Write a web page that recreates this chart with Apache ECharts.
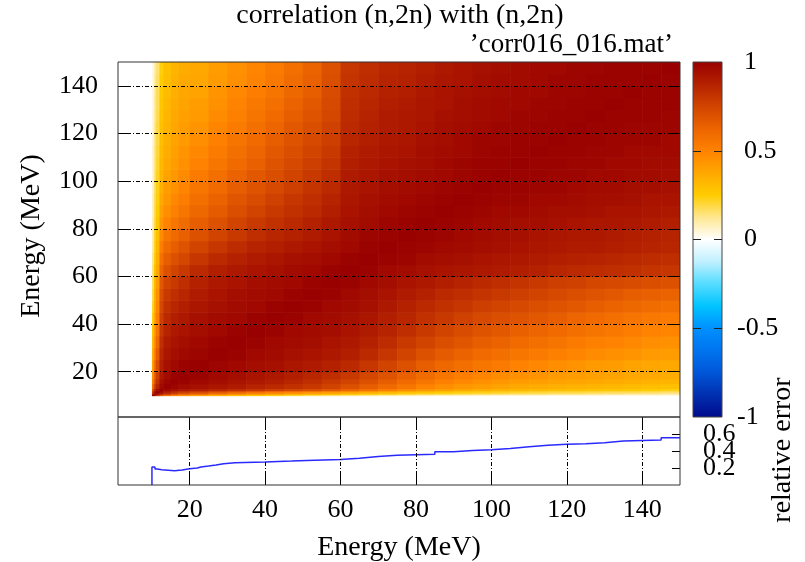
<!DOCTYPE html>
<html><head><meta charset="utf-8">
<script src="https://cdn.jsdelivr.net/npm/echarts@6/dist/echarts.min.js"></script>
<style>html,body{margin:0;padding:0;background:#fff}#c{width:805px;height:562px}</style>
</head><body><div id="c"></div>
<script>
// ---- data ----
const binEdges = [10,10.5,11,12,13,15,17,20,25,30,35,40,45,50,55,60,65,70,75,80,85,90,95,100,105,110,115,120,125,130,135,140,145,150];
// upper triangle of the correlation matrix: row i holds corr(bin i, bin j) for j >= i
const corrUpper = [
[1.00,0.92,0.80,0.67,0.57,0.50,0.45,0.40,0.35,0.31,0.27,0.24,0.21,0.18,0.16,0.14,0.12,0.10,0.09,0.08,0.07,0.07,0.06,0.05,0.05,0.05,0.04,0.04,0.04,0.03,0.03,0.03,0.03],
[1.00,0.95,0.85,0.76,0.68,0.62,0.57,0.50,0.45,0.41,0.38,0.35,0.33,0.30,0.27,0.24,0.22,0.20,0.18,0.17,0.16,0.15,0.14,0.13,0.13,0.12,0.12,0.11,0.11,0.10,0.10,0.09],
[1.00,0.95,0.88,0.82,0.77,0.72,0.66,0.61,0.56,0.52,0.48,0.45,0.41,0.38,0.35,0.32,0.29,0.27,0.25,0.24,0.23,0.22,0.21,0.20,0.19,0.19,0.18,0.17,0.17,0.16,0.15],
[1.00,0.97,0.94,0.91,0.89,0.86,0.83,0.80,0.77,0.74,0.71,0.67,0.62,0.57,0.52,0.47,0.43,0.40,0.37,0.35,0.33,0.32,0.31,0.30,0.29,0.28,0.27,0.26,0.25,0.24],
[1.00,0.98,0.96,0.94,0.92,0.90,0.87,0.85,0.82,0.79,0.75,0.70,0.65,0.60,0.55,0.50,0.46,0.43,0.41,0.39,0.37,0.36,0.35,0.34,0.33,0.32,0.31,0.30,0.29],
[1.00,0.99,0.97,0.95,0.93,0.91,0.89,0.86,0.83,0.79,0.75,0.70,0.65,0.60,0.55,0.51,0.48,0.45,0.43,0.41,0.40,0.39,0.38,0.37,0.36,0.35,0.34,0.33],
[1.00,0.99,0.97,0.95,0.93,0.91,0.89,0.86,0.83,0.79,0.74,0.69,0.64,0.59,0.55,0.52,0.49,0.47,0.45,0.44,0.42,0.41,0.40,0.39,0.38,0.37,0.36],
[1.00,0.98,0.97,0.95,0.94,0.92,0.90,0.88,0.85,0.80,0.75,0.70,0.65,0.61,0.58,0.55,0.53,0.50,0.48,0.46,0.44,0.42,0.41,0.39,0.38,0.37],
[1.00,0.99,0.97,0.96,0.94,0.93,0.91,0.89,0.85,0.80,0.75,0.70,0.66,0.63,0.60,0.58,0.55,0.53,0.51,0.49,0.47,0.45,0.44,0.42,0.41],
[1.00,0.99,0.97,0.96,0.95,0.93,0.91,0.88,0.84,0.79,0.75,0.71,0.68,0.65,0.63,0.60,0.58,0.56,0.53,0.51,0.50,0.48,0.46,0.45],
[1.00,0.99,0.97,0.96,0.95,0.93,0.90,0.87,0.83,0.79,0.75,0.72,0.69,0.67,0.64,0.62,0.60,0.58,0.56,0.54,0.52,0.50,0.49],
[1.00,0.99,0.97,0.96,0.94,0.92,0.89,0.86,0.82,0.79,0.76,0.73,0.71,0.69,0.67,0.65,0.62,0.60,0.58,0.56,0.54,0.53],
[1.00,0.99,0.97,0.96,0.94,0.91,0.88,0.85,0.82,0.80,0.77,0.75,0.73,0.71,0.69,0.67,0.65,0.63,0.61,0.59,0.58],
[1.00,0.99,0.97,0.95,0.93,0.90,0.88,0.85,0.83,0.81,0.79,0.77,0.75,0.73,0.71,0.69,0.67,0.65,0.64,0.63],
[1.00,0.99,0.97,0.95,0.93,0.91,0.89,0.87,0.85,0.83,0.81,0.79,0.77,0.76,0.74,0.73,0.72,0.71,0.70],
[1.00,0.99,0.97,0.96,0.94,0.93,0.92,0.91,0.90,0.89,0.88,0.86,0.85,0.84,0.83,0.82,0.81,0.80],
[1.00,0.99,0.98,0.96,0.95,0.94,0.93,0.92,0.91,0.90,0.89,0.88,0.87,0.86,0.85,0.84,0.83],
[1.00,0.99,0.98,0.97,0.96,0.95,0.94,0.93,0.92,0.91,0.90,0.90,0.89,0.88,0.87,0.86],
[1.00,0.99,0.98,0.97,0.96,0.95,0.94,0.93,0.92,0.91,0.91,0.90,0.89,0.88,0.87],
[1.00,0.99,0.98,0.97,0.96,0.95,0.95,0.94,0.93,0.92,0.92,0.91,0.90,0.89],
[1.00,0.99,0.98,0.97,0.97,0.96,0.95,0.95,0.94,0.93,0.93,0.92,0.91],
[1.00,0.99,0.98,0.98,0.97,0.97,0.96,0.95,0.95,0.94,0.93,0.93],
[1.00,0.99,0.99,0.98,0.98,0.97,0.96,0.96,0.95,0.95,0.94],
[1.00,0.99,0.99,0.98,0.98,0.97,0.97,0.96,0.96,0.95],
[1.00,0.99,0.99,0.98,0.98,0.97,0.97,0.96,0.96],
[1.00,0.99,0.99,0.98,0.98,0.97,0.97,0.97],
[1.00,0.99,0.99,0.98,0.98,0.98,0.97],
[1.00,0.99,0.99,0.98,0.98,0.98],
[1.00,0.99,0.99,0.99,0.98],
[1.00,0.99,0.99,0.99],
[1.00,0.99,0.99],
[1.00,0.99],
[1.00]
];
// relative error (lower panel): bin edges and values held across each bin
const errEdges  = [10,10.8,11.4,12.6,16,18,20,22,23,25,27,29,32,40,47,51,60,65,70,75,85,90,95,100,105,110,115,120,125,130,135,145,150];
const errValues = [0.212,0.188,0.180,0.169,0.176,0.192,0.200,0.212,0.223,0.235,0.250,0.262,0.270,0.281,0.289,0.300,0.316,0.335,0.351,0.363,0.390,0.405,0.416,0.428,0.451,0.467,0.479,0.486,0.498,0.517,0.529,0.556];
const energyTicks = [20,40,60,80,100,120,140];
const errTicks = [0.2,0.4,0.6];
const cbRange = [-1, 1];
const cbPosLabels = [0,0.5,1];
const cbNegLabels = [-1,-0.5];
const cbTicks = [-0.5,0,0.5];
const titleText = 'correlation (n,2n) with (n,2n)';
const keyText = '\u2019corr016_016.mat\u2019';
const axisName = 'Energy (MeV)';
const errName = 'relative error';
const palette = ['#000a8c','#0030b0','#0056d8','#0074ee','#0090ff','#00c4ff','#55dcff','#bff0ff','#ffffff','#ffe790','#ffcc00','#ffa800','#ff8200','#ec6400','#d14400','#b52200','#990000'];

// ---- build series data ----
const nb = binEdges.length - 1;
const heat = [];
for (let i = 0; i < nb; i++) {
  for (let j = 0; j < nb; j++) {
    const a = Math.min(i, j), b = Math.max(i, j);
    heat.push([binEdges[i], binEdges[i+1], binEdges[j], binEdges[j+1], corrUpper[a][b-a]]);
  }
}
const errLine = [[errEdges[0], 0]];
errValues.forEach((v, i) => errLine.push([errEdges[i], v]));
errLine.push([errEdges[errEdges.length-1], errValues[errValues.length-1]]);
const cbStops = palette.map((c, i) => ({offset: i / (palette.length - 1), color: c}));

const FONT = 'Liberation Serif';
const tickFont = {fontFamily: FONT, fontSize: 26, color: '#000', hideOverlap: false};
const dashDot = [4, 2, 1, 2];

function errAxis(val, withTicks) {
  return {gridIndex: 1, type: 'value', min: 0, max: 0.8, position: 'right', z: 5,
    axisLine: {show: false, onZero: false},
    axisTick: {show: withTicks, inside: true, length: 8, customValues: errTicks, lineStyle: {color: '#000'}},
    axisLabel: Object.assign({customValues: [val], margin: 23}, tickFont),
    splitLine: {show: false}};
}
function cbAxis(pos, ticks, labels, margin) {
  return {gridIndex: 2, type: 'value', min: cbRange[0], max: cbRange[1], position: pos, z: 12,
    axisLine: {show: false, onZero: false},
    axisTick: {show: ticks, inside: true, length: 8, customValues: cbTicks, lineStyle: {color: '#222'}},
    axisLabel: labels ? Object.assign({customValues: labels, margin: margin}, tickFont) : {show: false},
    splitLine: {show: false}};
}

const chart = echarts.init(document.getElementById('c'));
chart.setOption({
  animation: false,
  grid: [
    {left: 118, top: 62, width: 562, height: 355, show: true, borderColor: '#333', borderWidth: 1, backgroundColor: 'transparent', z: 6},
    {left: 118, top: 417, width: 562, height: 68, show: true, borderColor: '#333', borderWidth: 1, backgroundColor: 'transparent', z: 6},
    {left: 693, top: 62, width: 29, height: 355, show: true, borderColor: '#444', borderWidth: 1, backgroundColor: 'transparent', z: 12}
  ],
  xAxis: [
    {gridIndex: 0, type: 'value', min: 1, max: 150, show: false},
    {gridIndex: 1, type: 'value', min: 1, max: 150, position: 'bottom', z: 5,
      axisLine: {show: false, onZero: false},
      axisTick: {inside: true, length: 12, customValues: energyTicks, lineStyle: {color: '#000'}},
      axisLabel: Object.assign({customValues: energyTicks, margin: 12}, tickFont),
      splitLine: {show: true, lineStyle: {color: '#000', width: 1, type: dashDot}}},
    {gridIndex: 1, type: 'value', min: 1, max: 150, position: 'top', z: 5,
      axisLine: {show: false, onZero: false},
      axisTick: {inside: true, length: 12, customValues: energyTicks, lineStyle: {color: '#000'}},
      axisLabel: {show: false}, splitLine: {show: false}},
    {gridIndex: 2, type: 'value', min: 1, max: 2, show: false}
  ],
  yAxis: [
    {gridIndex: 0, type: 'value', min: 1, max: 150, position: 'left', z: 5,
      axisLine: {show: false, onZero: false},
      axisTick: {inside: true, length: 12, customValues: energyTicks, lineStyle: {color: '#000'}},
      axisLabel: Object.assign({customValues: energyTicks, margin: 20}, tickFont),
      splitLine: {show: true, lineStyle: {color: '#000', width: 1, type: dashDot}}},
    {gridIndex: 0, type: 'value', min: 1, max: 150, position: 'right', z: 5,
      axisLine: {show: false, onZero: false},
      axisTick: {inside: true, length: 12, customValues: energyTicks, lineStyle: {color: '#000'}},
      axisLabel: {show: false}, splitLine: {show: false}},
    errAxis(errTicks[0], true),
    errAxis(errTicks[1], false),
    errAxis(errTicks[2], false),
    cbAxis('right', true, cbPosLabels, 22),
    cbAxis('right', false, cbNegLabels, 15),
    cbAxis('left', true, null, 0)
  ],
  visualMap: {
    type: 'continuous', show: false, min: cbRange[0], max: cbRange[1], dimension: 4, seriesIndex: 0,
    inRange: {color: palette}
  },
  series: [
    {
      type: 'custom', xAxisIndex: 0, yAxisIndex: 0, clip: true, z: 2, silent: true,
      encode: {x: [0, 1], y: [2, 3]},
      data: heat,
      renderItem: function (params, api) {
        const p0 = api.coord([api.value(0), api.value(2)]);
        const p1 = api.coord([api.value(1), api.value(3)]);
        return {type: 'rect',
          shape: {x: p0[0], y: p1[1], width: p1[0] - p0[0] + 0.6, height: p0[1] - p1[1] + 0.6},
          style: {fill: api.visual('color'), stroke: null}};
      }
    },
    {
      type: 'line', xAxisIndex: 1, yAxisIndex: 2, step: 'end', symbol: 'none', silent: true,
      data: errLine, z: 3,
      lineStyle: {color: '#2a2aff', width: 1.5}
    },
    {
      // colour bar
      type: 'custom', xAxisIndex: 3, yAxisIndex: 5, z: 2, silent: true,
      encode: {x: [0, 1], y: [2, 3]},
      data: [[1, 2, cbRange[0], cbRange[1]]],
      renderItem: function (params, api) {
        const p0 = api.coord([api.value(0), api.value(2)]);
        const p1 = api.coord([api.value(1), api.value(3)]);
        return {type: 'rect',
          shape: {x: p0[0], y: p1[1], width: p1[0] - p0[0], height: p0[1] - p1[1]},
          style: {fill: new echarts.graphic.LinearGradient(0, 1, 0, 0, cbStops)}};
      }
    }
  ],
  graphic: [
    {type: 'text', x: 400, y: 16, style: {text: titleText, font: '28px "Liberation Serif"', fill: '#000', align: 'center', verticalAlign: 'middle'}},
    {type: 'text', x: 673, y: 45, style: {text: keyText, font: '27px "Liberation Serif"', fill: '#000', align: 'right', verticalAlign: 'middle'}},
    {type: 'text', x: 399, y: 548, style: {text: axisName, font: '28px "Liberation Serif"', fill: '#000', align: 'center', verticalAlign: 'middle'}},
    {type: 'text', x: 32, y: 236, rotation: Math.PI / 2, style: {text: axisName, font: '28px "Liberation Serif"', fill: '#000', align: 'center', verticalAlign: 'middle'}},
    {type: 'text', x: 783, y: 450, rotation: Math.PI / 2, style: {text: errName, font: '28px "Liberation Serif"', fill: '#000', align: 'center', verticalAlign: 'middle'}}
  ]
});
</script>
</body></html>
